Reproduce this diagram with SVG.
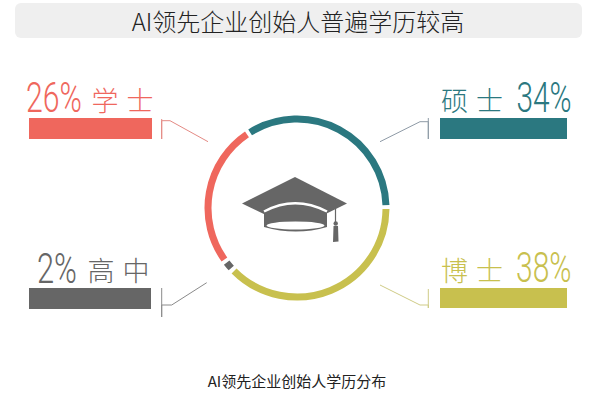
<svg xmlns="http://www.w3.org/2000/svg" width="603" height="400" viewBox="0 0 603 400">
<style>
.pct{font-family:Roboto,"Liberation Sans",sans-serif;font-weight:300;font-size:42px}
.cjk{font-family:"Noto Sans CJK SC",sans-serif;font-weight:300;font-size:27px;letter-spacing:8px}
.arc{fill:none;stroke-width:7}
.con{fill:none;stroke-width:1}
.red{fill:#ef675d}.teal{fill:#2b7880}.yel{fill:#c8c04e}.gry{fill:#666666}
</style>
<rect width="603" height="400" fill="#ffffff"/>
<g id="title">
<rect x="15" y="3" width="567" height="35" rx="6" fill="#efefef"/>
<text x="298" y="30.5" text-anchor="middle" font-family="'Noto Sans CJK SC',sans-serif" font-weight="300" font-size="24" fill="#222">AI领先企业创始人普遍学历较高</text>
</g>
<g id="ring">
<path class="arc" stroke="#2b7880" d="M250.1,132.36 A89,89 0 0 1 385.96,205.2"/>
<path class="arc" stroke="#c8c04e" d="M385.99,208.93 A89,89 0 0 1 234.07,270.93"/>
<path class="arc" stroke="#666666" d="M231.28,268.01 A89,89 0 0 1 226.68,262.55"/>
<path class="arc" stroke="#ef675d" d="M224.44,259.53 A89,89 0 0 1 246.97,134.39"/>
</g>
<g id="cap" fill="#666666">
<path d="M295,177 L347,203.5 L295,229 L242,203.5 Z"/>
<path d="M264,207 L327,207 L327,227 Q296,236 264,227 Z"/>
<ellipse cx="295.5" cy="225.5" rx="29" ry="4" fill="#ffffff"/>
<path d="M264,211.5 Q295,195 327,211.5" fill="none" stroke="#ffffff" stroke-width="2.5"/>
<line x1="335.5" y1="206" x2="335.5" y2="222" stroke="#666666" stroke-width="1.2"/>
<circle cx="335.7" cy="223.5" r="2.2"/>
<path d="M333.5,226 L338,226 L338.5,241.5 L333,242 Z"/>
</g>
<g id="connectors">
<polyline class="con" stroke="#e48a84" points="161.7,119 161.7,139 161.7,120.7 170,120.7 208,141.7"/>
<polyline class="con" stroke="#8e9aa6" points="428.3,118 428.3,139 428.3,121.7 420,121.7 380,141.7"/>
<polyline class="con" stroke="#8a8a8a" points="161.7,288 161.7,317 161.7,305 171.7,305 206.7,282.7"/>
<polyline class="con" stroke="#cfcb86" points="428.3,289 428.3,308 428.3,305 420,305 380,285"/>
</g>
<g id="bachelor">
<text class="pct red" transform="translate(26,112) scale(0.72,1)">26%</text>
<text class="cjk red" x="91.5" y="110.5">学士</text>
<rect class="red" x="29" y="118" width="123" height="21"/>
</g>
<g id="master">
<text class="cjk teal" x="441" y="110.5">硕士</text>
<text class="pct teal" transform="translate(516.5,112) scale(0.71,1)">34%</text>
<rect class="teal" x="440" y="118" width="127" height="21"/>
</g>
<g id="highschool">
<text class="pct gry" transform="translate(37,282.5) scale(0.735,1)">2%</text>
<text class="cjk gry" x="87.5" y="281">高中</text>
<rect class="gry" x="29" y="288" width="122" height="21"/>
</g>
<g id="doctor">
<text class="cjk yel" x="441" y="281">博士</text>
<text class="pct yel" transform="translate(516,282) scale(0.715,1)">38%</text>
<rect class="yel" x="440" y="288" width="127" height="20"/>
</g>
<g id="caption">
<text x="297" y="387" text-anchor="middle" font-family="'Noto Sans CJK SC',sans-serif" font-size="15" fill="#222">AI领先企业创始人学历分布</text>
</g>
</svg>
